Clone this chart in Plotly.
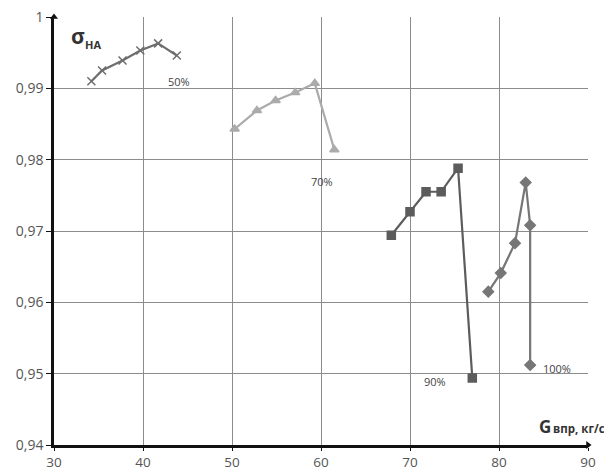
import plotly.graph_objects as go

x50 = [34.2, 35.4, 37.7, 39.7, 41.7, 43.8]
y50 = [0.9910, 0.9925, 0.9939, 0.9953, 0.9963, 0.9946]
x70 = [50.3, 52.8, 54.9, 57.1, 59.3, 61.5]
y70 = [0.9843, 0.9869, 0.9883, 0.9894, 0.9907, 0.9814]
x90 = [67.9, 70.0, 71.8, 73.5, 75.4, 77.0]
y90 = [0.9694, 0.9727, 0.9755, 0.9755, 0.9788, 0.9494]
x100 = [78.8, 80.2, 81.8, 83.0, 83.5, 83.5]
y100 = [0.9615, 0.9641, 0.9683, 0.9768, 0.9708, 0.9512]

xticks = [30, 40, 50, 60, 70, 80, 90]
yticks = [0.94, 0.95, 0.96, 0.97, 0.98, 0.99, 1.0]
ytext = ["0,94", "0,95", "0,96", "0,97", "0,98", "0,99", "1"]

series = [
    (x50, y50, "50%", "#6e6e6e", "x-thin", 8, 44.1, 0.9909),
    (x70, y70, "70%", "#ababab", "triangle-up", 8, 60.1, 0.9769),
    (x90, y90, "90%", "#5c5c5c", "square", 8, 72.8, 0.9489),
    (x100, y100, "100%", "#767676", "diamond", 8, 86.5, 0.9507),
]

fig = go.Figure()
for xs, ys, name, col, sym, sz, lx, ly in series:
    fig.add_trace(go.Scatter(
        x=xs, y=ys, mode="lines+markers", name=name,
        line=dict(color=col, width=2.2),
        marker=dict(symbol=sym, size=sz, color=col,
                    line=dict(color=col, width=1.5)),
        showlegend=False,
    ))
    fig.add_annotation(x=lx, y=ly, text=name, showarrow=False,
                       font=dict(size=11, color="#444", family="Open Sans"))

# axis arrowheads
fig.add_trace(go.Scatter(x=[30], y=[1.0], mode="markers", cliponaxis=False, showlegend=False,
                         hoverinfo="skip",
                         marker=dict(symbol="triangle-up", size=7, color="#111")))
fig.add_trace(go.Scatter(x=[90], y=[0.94], mode="markers", cliponaxis=False, showlegend=False,
                         hoverinfo="skip",
                         marker=dict(symbol="triangle-right", size=7, color="#111")))

# y axis title: sigma with subscript HA
fig.add_annotation(x=31.7, y=0.9973, xanchor="left", yanchor="middle", text="<b>σ</b>",
                   showarrow=False, font=dict(size=21, color="#333", family="Open Sans"))
fig.add_annotation(x=33.3, y=0.9962, xanchor="left", yanchor="middle", text="<b>HA</b>",
                   showarrow=False, font=dict(size=11, color="#333", family="Open Sans"))
# x axis title
fig.add_annotation(xref="paper", yref="paper", x=0.905, y=0.012, xanchor="left", yanchor="bottom",
                   text="<b>G</b>", showarrow=False,
                   font=dict(size=17, color="#333", family="Open Sans"))
fig.add_annotation(xref="paper", yref="paper", x=0.931, y=0.017, xanchor="left", yanchor="bottom",
                   text="<b>впр, кг/с</b>", showarrow=False,
                   font=dict(size=11.5, color="#333", family="Open Sans"))

fig.update_xaxes(range=[30, 90], tickvals=xticks, showgrid=True, gridcolor="#8c8c8c", gridwidth=1,
                 showline=True, linecolor="#111", linewidth=2.5, ticks="outside", ticklen=3,
                 tickcolor="#111", zeroline=False, automargin=False, ticklabeloverflow="allow",
                 tickfont=dict(size=13.5, color="#555", family="Open Sans"))
fig.update_yaxes(range=[0.94, 1.0], tickvals=yticks, ticktext=ytext, showgrid=True,
                 gridcolor="#8c8c8c", gridwidth=1, showline=True, linecolor="#111", linewidth=2.5,
                 ticks="outside", ticklen=5, tickcolor="#111", zeroline=False, automargin=False,
                 ticklabeloverflow="allow",
                 tickfont=dict(size=14, color="#555", family="Open Sans"))

# page body has an 8px default margin, so the figure is sized to fill the rest
fig.update_layout(width=604, height=464, plot_bgcolor="white", paper_bgcolor="white",
                  margin=dict(l=46, r=24, t=9, b=27))
fig.write_html("out.html")
